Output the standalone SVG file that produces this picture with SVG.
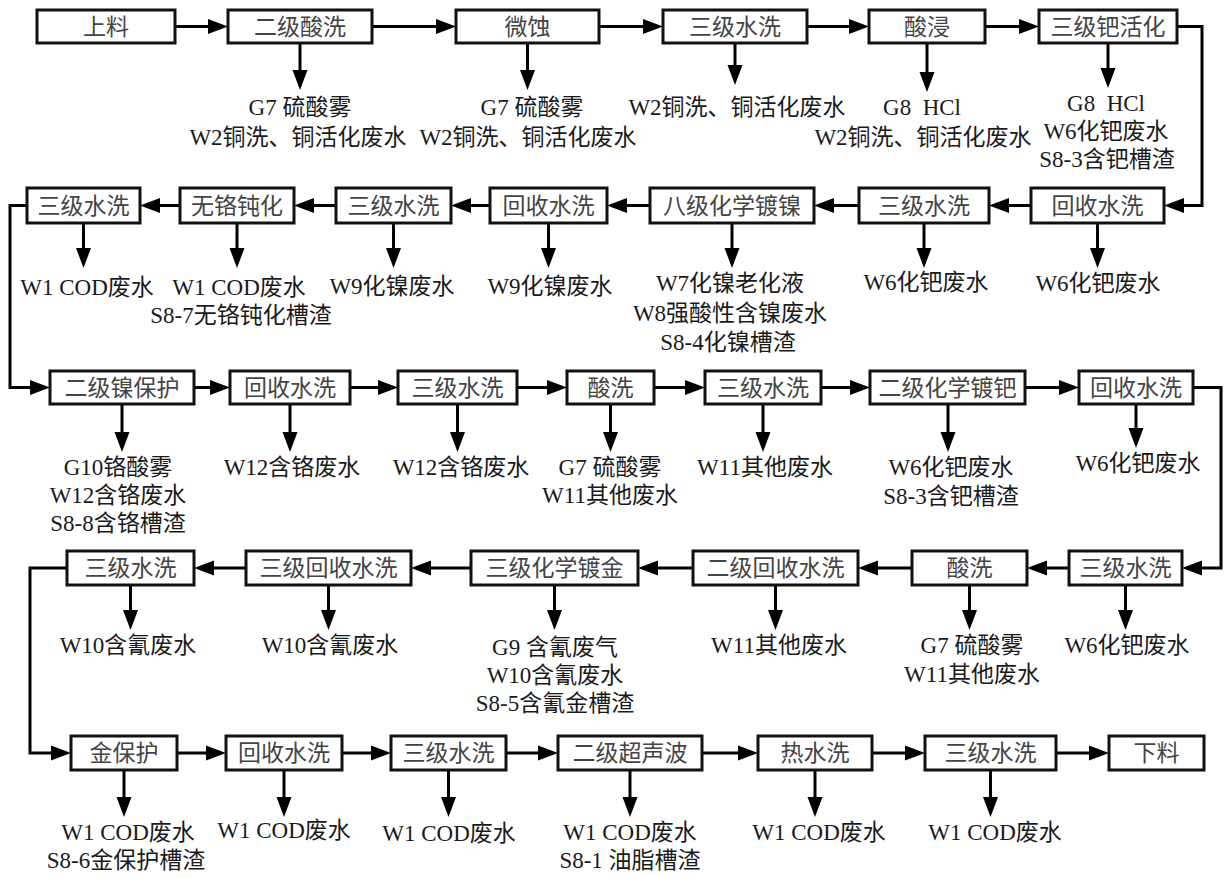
<svg xmlns="http://www.w3.org/2000/svg" width="1227" height="878" viewBox="0 0 1227 878">
<defs>
<style>
.box{fill:#fff;stroke:#111;stroke-width:3}
.t{font-family:"Liberation Serif","Noto Sans CJK SC",serif;font-size:23px;text-anchor:middle;dominant-baseline:central}
.bt{fill:#444}
.lb{fill:#1a1a1a}
.ln{fill:none;stroke:#000;stroke-width:3}
</style>
<marker id="ah" markerUnits="userSpaceOnUse" markerWidth="20" markerHeight="16" viewBox="0 0 20 16" refX="12" refY="8" orient="auto"><path d="M0,0.5 L20,8 L0,15.5 z" fill="#000"/></marker>
</defs>
<rect width="1227" height="878" fill="#fff"/>

<g id="connectors">
<line class="ln" x1="175" y1="26.5" x2="220" y2="26.5" marker-end="url(#ah)"/>
<line class="ln" x1="372" y1="26.5" x2="448" y2="26.5" marker-end="url(#ah)"/>
<line class="ln" x1="599" y1="26.5" x2="655" y2="26.5" marker-end="url(#ah)"/>
<line class="ln" x1="807" y1="26.5" x2="861" y2="26.5" marker-end="url(#ah)"/>
<line class="ln" x1="985" y1="26.5" x2="1031" y2="26.5" marker-end="url(#ah)"/>
<path class="ln" d="M1177,26.5 H1202 V205.5 H1172" marker-end="url(#ah)"/>
<line class="ln" x1="300" y1="43" x2="300" y2="82" marker-end="url(#ah)"/>
<line class="ln" x1="527.5" y1="43" x2="527.5" y2="82" marker-end="url(#ah)"/>
<line class="ln" x1="735" y1="43" x2="735" y2="77" marker-end="url(#ah)"/>
<line class="ln" x1="927" y1="43" x2="927" y2="84" marker-end="url(#ah)"/>
<line class="ln" x1="1108" y1="43" x2="1108" y2="80" marker-end="url(#ah)"/>

<line class="ln" x1="1031" y1="205.5" x2="997" y2="205.5" marker-end="url(#ah)"/>
<line class="ln" x1="859" y1="205.5" x2="822" y2="205.5" marker-end="url(#ah)"/>
<line class="ln" x1="650" y1="205.5" x2="615" y2="205.5" marker-end="url(#ah)"/>
<line class="ln" x1="490" y1="205.5" x2="459" y2="205.5" marker-end="url(#ah)"/>
<line class="ln" x1="336" y1="205.5" x2="302" y2="205.5" marker-end="url(#ah)"/>
<line class="ln" x1="180" y1="205.5" x2="148" y2="205.5" marker-end="url(#ah)"/>
<path class="ln" d="M27,205.5 H10 V387.5 H42" marker-end="url(#ah)"/>
<line class="ln" x1="83.5" y1="223" x2="83.5" y2="260" marker-end="url(#ah)"/>
<line class="ln" x1="237" y1="223" x2="237" y2="260" marker-end="url(#ah)"/>
<line class="ln" x1="393.5" y1="223" x2="393.5" y2="260" marker-end="url(#ah)"/>
<line class="ln" x1="548.5" y1="223" x2="548.5" y2="260" marker-end="url(#ah)"/>
<line class="ln" x1="732" y1="223" x2="732" y2="260" marker-end="url(#ah)"/>
<line class="ln" x1="924" y1="223" x2="924" y2="260" marker-end="url(#ah)"/>
<line class="ln" x1="1097.5" y1="223" x2="1097.5" y2="260" marker-end="url(#ah)"/>

<line class="ln" x1="194" y1="387.5" x2="222" y2="387.5" marker-end="url(#ah)"/>
<line class="ln" x1="350" y1="387.5" x2="390" y2="387.5" marker-end="url(#ah)"/>
<line class="ln" x1="517" y1="387.5" x2="559" y2="387.5" marker-end="url(#ah)"/>
<line class="ln" x1="654" y1="387.5" x2="697" y2="387.5" marker-end="url(#ah)"/>
<line class="ln" x1="821" y1="387.5" x2="862" y2="387.5" marker-end="url(#ah)"/>
<line class="ln" x1="1025" y1="387.5" x2="1071" y2="387.5" marker-end="url(#ah)"/>
<path class="ln" d="M1193,387.5 H1221 V568 H1190" marker-end="url(#ah)"/>
<line class="ln" x1="122" y1="404" x2="122" y2="444" marker-end="url(#ah)"/>
<line class="ln" x1="290" y1="404" x2="290" y2="444" marker-end="url(#ah)"/>
<line class="ln" x1="457.5" y1="404" x2="457.5" y2="444" marker-end="url(#ah)"/>
<line class="ln" x1="610.5" y1="404" x2="610.5" y2="444" marker-end="url(#ah)"/>
<line class="ln" x1="763" y1="404" x2="763" y2="444" marker-end="url(#ah)"/>
<line class="ln" x1="948" y1="404" x2="948" y2="444" marker-end="url(#ah)"/>
<line class="ln" x1="1136" y1="404" x2="1136" y2="440" marker-end="url(#ah)"/>

<line class="ln" x1="1069" y1="568" x2="1035" y2="568" marker-end="url(#ah)"/>
<line class="ln" x1="912" y1="568" x2="866" y2="568" marker-end="url(#ah)"/>
<line class="ln" x1="693" y1="568" x2="646" y2="568" marker-end="url(#ah)"/>
<line class="ln" x1="471" y1="568" x2="419" y2="568" marker-end="url(#ah)"/>
<line class="ln" x1="246" y1="568" x2="202" y2="568" marker-end="url(#ah)"/>
<path class="ln" d="M67,568 H30 V753 H63" marker-end="url(#ah)"/>
<line class="ln" x1="1125.5" y1="585" x2="1125.5" y2="622" marker-end="url(#ah)"/>
<line class="ln" x1="969.5" y1="585" x2="969.5" y2="622" marker-end="url(#ah)"/>
<line class="ln" x1="775.5" y1="585" x2="775.5" y2="622" marker-end="url(#ah)"/>
<line class="ln" x1="554.5" y1="585" x2="554.5" y2="622" marker-end="url(#ah)"/>
<line class="ln" x1="328.5" y1="585" x2="328.5" y2="622" marker-end="url(#ah)"/>
<line class="ln" x1="130.5" y1="585" x2="130.5" y2="622" marker-end="url(#ah)"/>

<line class="ln" x1="177" y1="753" x2="218" y2="753" marker-end="url(#ah)"/>
<line class="ln" x1="342" y1="753" x2="383" y2="753" marker-end="url(#ah)"/>
<line class="ln" x1="506" y1="753" x2="550" y2="753" marker-end="url(#ah)"/>
<line class="ln" x1="702" y1="753" x2="750" y2="753" marker-end="url(#ah)"/>
<line class="ln" x1="872" y1="753" x2="917" y2="753" marker-end="url(#ah)"/>
<line class="ln" x1="1056" y1="753" x2="1101" y2="753" marker-end="url(#ah)"/>
<line class="ln" x1="124" y1="770" x2="124" y2="809" marker-end="url(#ah)"/>
<line class="ln" x1="284" y1="770" x2="284" y2="809" marker-end="url(#ah)"/>
<line class="ln" x1="448.5" y1="770" x2="448.5" y2="809" marker-end="url(#ah)"/>
<line class="ln" x1="630" y1="770" x2="630" y2="809" marker-end="url(#ah)"/>
<line class="ln" x1="815" y1="770" x2="815" y2="809" marker-end="url(#ah)"/>
<line class="ln" x1="990.5" y1="770" x2="990.5" y2="809" marker-end="url(#ah)"/>
</g>

<g id="n1"><rect class="box" x="37" y="10" width="138" height="33"/><text class="t bt" x="106" y="27">上料</text></g>
<g id="n2"><rect class="box" x="228" y="10" width="144" height="33"/><text class="t bt" x="300" y="27">二级酸洗</text>
<text class="t lb" x="300" y="107">G7 硫酸雾</text><text class="t lb" x="298" y="137">W2铜洗、铜活化废水</text></g>
<g id="n3"><rect class="box" x="456" y="10" width="143" height="33"/><text class="t bt" x="527.5" y="27">微蚀</text>
<text class="t lb" x="532" y="107">G7 硫酸雾</text><text class="t lb" x="528" y="137">W2铜洗、铜活化废水</text></g>
<g id="n4"><rect class="box" x="663" y="10" width="144" height="33"/><text class="t bt" x="735" y="27">三级水洗</text>
<text class="t lb" x="737" y="107">W2铜洗、铜活化废水</text></g>
<g id="n5"><rect class="box" x="869" y="10" width="116" height="33"/><text class="t bt" x="927" y="27">酸浸</text>
<text class="t lb" x="922" y="107" xml:space="preserve">G8  HCl</text><text class="t lb" x="923" y="137">W2铜洗、铜活化废水</text></g>
<g id="n6"><rect class="box" x="1039" y="10" width="138" height="33"/><text class="t bt" x="1108" y="27">三级钯活化</text>
<text class="t lb" x="1106" y="103" xml:space="preserve">G8  HCl</text><text class="t lb" x="1106" y="131">W6化钯废水</text><text class="t lb" x="1107" y="159">S8-3含钯槽渣</text></g>

<g id="n7"><rect class="box" x="1031" y="188" width="133" height="35"/><text class="t bt" x="1097.5" y="206">回收水洗</text>
<text class="t lb" x="1098" y="283">W6化钯废水</text></g>
<g id="n8"><rect class="box" x="859" y="188" width="130" height="35"/><text class="t bt" x="924" y="206">三级水洗</text>
<text class="t lb" x="926" y="282">W6化钯废水</text></g>
<g id="n9"><rect class="box" x="650" y="188" width="164" height="35"/><text class="t bt" x="732" y="206">八级化学镀镍</text>
<text class="t lb" x="730" y="283">W7化镍老化液</text><text class="t lb" x="730" y="313">W8强酸性含镍废水</text><text class="t lb" x="728" y="342">S8-4化镍槽渣</text></g>
<g id="n10"><rect class="box" x="490" y="188" width="117" height="35"/><text class="t bt" x="548.5" y="206">回收水洗</text>
<text class="t lb" x="550" y="286">W9化镍废水</text></g>
<g id="n11"><rect class="box" x="336" y="188" width="115" height="35"/><text class="t bt" x="393.5" y="206">三级水洗</text>
<text class="t lb" x="392" y="286">W9化镍废水</text></g>
<g id="n12"><rect class="box" x="180" y="188" width="114" height="35"/><text class="t bt" x="237" y="206">无铬钝化</text>
<text class="t lb" x="239" y="287">W1 COD废水</text><text class="t lb" x="241" y="315">S8-7无铬钝化槽渣</text></g>
<g id="n13"><rect class="box" x="27" y="188" width="113" height="35"/><text class="t bt" x="83.5" y="206">三级水洗</text>
<text class="t lb" x="87" y="287">W1 COD废水</text></g>

<g id="n14"><rect class="box" x="50" y="371" width="144" height="33"/><text class="t bt" x="122" y="388">二级镍保护</text>
<text class="t lb" x="118" y="467">G10铬酸雾</text><text class="t lb" x="118" y="495">W12含铬废水</text><text class="t lb" x="118" y="523">S8-8含铬槽渣</text></g>
<g id="n15"><rect class="box" x="230" y="371" width="120" height="33"/><text class="t bt" x="290" y="388">回收水洗</text>
<text class="t lb" x="292" y="467">W12含铬废水</text></g>
<g id="n16"><rect class="box" x="398" y="371" width="119" height="33"/><text class="t bt" x="457.5" y="388">三级水洗</text>
<text class="t lb" x="461" y="467">W12含铬废水</text></g>
<g id="n17"><rect class="box" x="567" y="371" width="87" height="33"/><text class="t bt" x="610.5" y="388">酸洗</text>
<text class="t lb" x="610" y="467">G7 硫酸雾</text><text class="t lb" x="610" y="495">W11其他废水</text></g>
<g id="n18"><rect class="box" x="705" y="371" width="116" height="33"/><text class="t bt" x="763" y="388">三级水洗</text>
<text class="t lb" x="765" y="467">W11其他废水</text></g>
<g id="n19"><rect class="box" x="870" y="371" width="155" height="33"/><text class="t bt" x="947.5" y="388">二级化学镀钯</text>
<text class="t lb" x="951" y="467">W6化钯废水</text><text class="t lb" x="951" y="496">S8-3含钯槽渣</text></g>
<g id="n20"><rect class="box" x="1079" y="371" width="114" height="33"/><text class="t bt" x="1136" y="388">回收水洗</text>
<text class="t lb" x="1138" y="463">W6化钯废水</text></g>

<g id="n21"><rect class="box" x="1069" y="551" width="113" height="34"/><text class="t bt" x="1125.5" y="568">三级水洗</text>
<text class="t lb" x="1127" y="645">W6化钯废水</text></g>
<g id="n22"><rect class="box" x="912" y="551" width="115" height="34"/><text class="t bt" x="969.5" y="568">酸洗</text>
<text class="t lb" x="972" y="645">G7 硫酸雾</text><text class="t lb" x="972" y="674">W11其他废水</text></g>
<g id="n23"><rect class="box" x="693" y="551" width="165" height="34"/><text class="t bt" x="775.5" y="568">二级回收水洗</text>
<text class="t lb" x="779" y="645">W11其他废水</text></g>
<g id="n24"><rect class="box" x="471" y="551" width="167" height="34"/><text class="t bt" x="554.5" y="568">三级化学镀金</text>
<text class="t lb" x="555" y="647">G9 含氰废气</text><text class="t lb" x="555" y="675">W10含氰废水</text><text class="t lb" x="555" y="703">S8-5含氰金槽渣</text></g>
<g id="n25"><rect class="box" x="246" y="551" width="165" height="34"/><text class="t bt" x="328.5" y="568">三级回收水洗</text>
<text class="t lb" x="330" y="645">W10含氰废水</text></g>
<g id="n26"><rect class="box" x="67" y="551" width="127" height="34"/><text class="t bt" x="130.5" y="568">三级水洗</text>
<text class="t lb" x="128" y="645">W10含氰废水</text></g>

<g id="n27"><rect class="box" x="71" y="736" width="106" height="34"/><text class="t bt" x="124" y="753">金保护</text>
<text class="t lb" x="128" y="832">W1 COD废水</text><text class="t lb" x="126" y="860">S8-6金保护槽渣</text></g>
<g id="n28"><rect class="box" x="226" y="736" width="116" height="34"/><text class="t bt" x="284" y="753">回收水洗</text>
<text class="t lb" x="284" y="830">W1 COD废水</text></g>
<g id="n29"><rect class="box" x="391" y="736" width="115" height="34"/><text class="t bt" x="448.5" y="753">三级水洗</text>
<text class="t lb" x="449" y="833">W1 COD废水</text></g>
<g id="n30"><rect class="box" x="558" y="736" width="144" height="34"/><text class="t bt" x="630" y="753">二级超声波</text>
<text class="t lb" x="630" y="832">W1 COD废水</text><text class="t lb" x="630" y="860">S8-1 油脂槽渣</text></g>
<g id="n31"><rect class="box" x="758" y="736" width="114" height="34"/><text class="t bt" x="815" y="753">热水洗</text>
<text class="t lb" x="819" y="832">W1 COD废水</text></g>
<g id="n32"><rect class="box" x="925" y="736" width="131" height="34"/><text class="t bt" x="990.5" y="753">三级水洗</text>
<text class="t lb" x="995" y="832">W1 COD废水</text></g>
<g id="n33"><rect class="box" x="1109" y="736" width="95" height="34"/><text class="t bt" x="1156.5" y="753">下料</text></g>
</svg>
